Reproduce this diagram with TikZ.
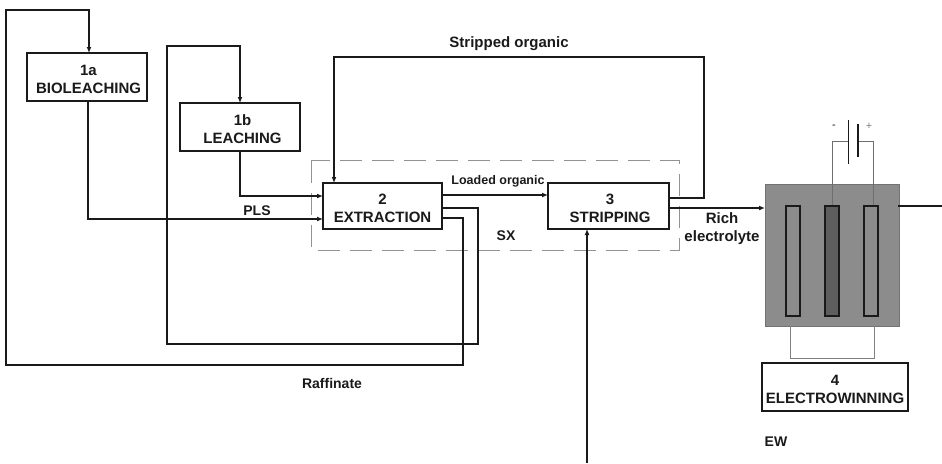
\documentclass[tikz,border=0pt]{standalone}
\usepackage{fontspec}
\setmainfont{Liberation Sans}
\usetikzlibrary{arrows.meta}
\definecolor{cellgray}{HTML}{8C8C8C}
\definecolor{darkel}{HTML}{5E5E5E}
\definecolor{wiregray}{HTML}{6E6E6E}
\definecolor{inkc}{HTML}{1A1A1A}
\newcommand{\dn}{\rule{0pt}{16pt}}
\tikzset{x=1pt,y=-1pt,
 procbox/.style={draw=inkc,line width=1.9pt,fill=white,inner sep=0pt,align=center,font=\fontsize{15}{18}\selectfont\bfseries,text=inkc},
 flow/.style={draw=inkc,line width=1.9pt},
 arrowflow/.style={flow,-{Latex[length=6pt,width=5pt]}},
 wirethin/.style={draw=wiregray,line width=0.8pt},
 lbl/.style={font=\fontsize{14.5}{18}\selectfont\bfseries,text=inkc,inner sep=0pt,align=center},
 electrode/.style={draw=inkc,line width=1.9pt,minimum width=14pt,minimum height=110pt,inner sep=0pt}
}
\begin{document}
\begin{tikzpicture}
\useasboundingbox (0,0) rectangle (942,463);
% SX dashed
\draw[draw=gray!85,line width=0.9pt,dash pattern=on 22pt off 10pt] (311,160.5) rectangle (679,250);
% boxes
\node[procbox,minimum width=120pt,minimum height=48pt] (a) at (87,77) {\dn\hspace*{3pt}1a\\\hspace*{3pt}BIOLEACHING};
\node[procbox,minimum width=120pt,minimum height=48pt] (b) at (240,127) {\dn\hspace*{5pt}1b\\\hspace*{5pt}LEACHING};
\node[procbox,minimum width=119pt,minimum height=46pt] (c) at (382.5,206) {\dn 2\\EXTRACTION};
\node[procbox,minimum width=121pt,minimum height=46pt] (d) at (608.5,206) {\dn\hspace*{3pt}3\\\hspace*{3pt}STRIPPING};
\node[procbox,minimum width=146pt,minimum height=48pt] (e) at (835,387) {\dn 4\\ELECTROWINNING};
% cell
\node[draw=gray!90!black,fill=cellgray,line width=0.6pt,minimum width=134pt,minimum height=142pt,inner sep=0pt] (cell) at (832,255.5) {};
\node[electrode,fill=cellgray] (p1) at (793,261) {};
\node[electrode,fill=darkel] (p2) at (832,261) {};
\node[electrode,fill=cellgray] (p3) at (871,261) {};
% battery
\coordinate (bl) at (848.5,141.5);
\coordinate (br) at (858,141.5);
\coordinate (wl) at (832,141.5);
\coordinate (wr) at (873,141.5);
\draw[wirethin] (p2.north) -- (wl) -- (bl);
\draw[wirethin] (p3.north -| wr) -- (wr) -- (br);
\draw[draw=inkc,line width=1.9pt] (848.5,120) -- (848.5,164);
\draw[draw=inkc,line width=1.9pt] (858,124) -- (858,157);
\node[font=\fontsize{11}{12}\selectfont,text=inkc,inner sep=0pt] (minus) at (834,127) {-};
\node[font=\fontsize{11}{12}\selectfont,text=gray,inner sep=0pt] (plus) at (869,126) {+};
% lower wire
\coordinate (la) at (790,358);
\coordinate (lb) at (874,358);
\draw[draw=gray,line width=0.8pt] (790,326) -- (la) -- (lb) -- (874,326);
% flows
\coordinate (t1) at (6,365); \coordinate (t2) at (6,10); \coordinate (t3) at (89,10);
\draw[arrowflow] (442,218) -- (463,218) -- (463,365) -- (t1) -- (t2) -- (t3) -- (89,53);
\coordinate (u1) at (167,344); \coordinate (u2) at (167,46);
\draw[arrowflow] (442,208) -- (478,208) -- (478,344) -- (u1) -- (u2) -- (240,46) -- (240,103);
\draw[arrowflow] (88,101) -- (88,219) -- (323,219);
\draw[arrowflow] (240,151) -- (240,196) -- (323,196);
\draw[arrowflow] (442,195) -- (548,195);
\draw[arrowflow] (669,198) -- (704,198) -- (704,57) -- (334,57) -- (334,183);
\draw[arrowflow] (669,208) -- (765,208);
\coordinate (outend) at (942,206);
\draw[flow] (898,206) -- (outend);
\coordinate (feed) at (587,463);
\draw[arrowflow] (feed) -- (587,229);
% labels
\node[lbl,font=\fontsize{15}{18}\selectfont\bfseries] (l1) at (509,44) {Stripped organic};
\node[lbl,font=\fontsize{12.5}{15}\selectfont\bfseries] (l2) at (498,181) {Loaded organic};
\node[lbl,font=\fontsize{14}{17}\selectfont\bfseries] (l3) at (257,211) {PLS};
\node[lbl,font=\fontsize{14}{15}\selectfont\bfseries] (l4) at (506,236) {SX};
\node[lbl,font=\fontsize{15}{18}\selectfont\bfseries] (l5) at (722,229) {Rich\\electrolyte};
\node[lbl,font=\fontsize{14}{17}\selectfont\bfseries] (l6) at (332,383) {Raffinate};
\node[lbl,font=\fontsize{14}{17}\selectfont\bfseries] (l7) at (776,442) {EW};
\end{tikzpicture}
\end{document}
